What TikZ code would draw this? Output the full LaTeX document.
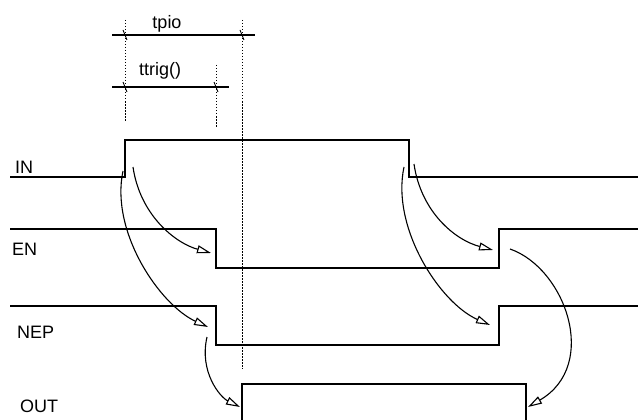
\documentclass[tikz,border=0pt]{standalone}
\usepackage{fontspec}
\setmainfont{Liberation Sans}
\usetikzlibrary{arrows.meta}
\def\TICK#1{\draw[line width=0.9pt] (#1)+(-2,-5) -- +(2,5);}
\tikzset{
  sig/.style={line width=1.5pt},
  guide/.style={line width=0.9pt,dash pattern=on 1.5pt off 1.5pt},
  cause/.style={line width=1.1pt,-{Triangle[open,length=14pt,width=8pt,line width=1.1pt]}},
  lbl/.style={anchor=base west,font=\fontsize{18}{20}\selectfont,inner sep=0pt}
}
\begin{document}
\begin{tikzpicture}[x=1pt,y=-1pt]
\useasboundingbox (0,0) rectangle (638,420);
% signals
\draw[sig] (10,177) -- (125,177) -- (125,140) -- (409,140) -- (409,177) -- (638,177);
\draw[sig] (10,229) -- (216,229) -- (216,268) -- (499,268) -- (499,229) -- (638,229);
\draw[sig] (10,306) -- (216,306) -- (216,345) -- (499,345) -- (499,306) -- (638,306);
\draw[sig] (242,421) -- (242,384) -- (526,384) -- (526,421);
\node[lbl] (in) at (15,173) {IN};
\node[lbl] (en) at (12,255) {EN};
\node[lbl] (nep) at (17,338) {NEP};
\node[lbl] (out) at (20,412) {OUT};
% timing guides
\draw[guide] (125,20) -- (125,122);
\draw[guide] (216,65) -- (216,127);
\draw[guide] (242,20) -- (242,369);
\coordinate (p1) at (125,35); \coordinate (p2) at (242,35);
\coordinate (q1) at (125,87); \coordinate (q2) at (216,87);
\draw[line width=1.1pt] (112,35) -- (255,35);
\draw[line width=1.1pt] (112,87) -- (229,87);
\TICK{p1} \TICK{p2} \TICK{q1} \TICK{q2}
\node[lbl,anchor=base] (tpio) at (167,29) {tpio};
\node[lbl,anchor=base] (ttrig) at (160,76) {ttrig()};
% causes
\coordinate (a1) at (133,167); \coordinate (b1) at (211,253);
\coordinate (a2) at (123,171); \coordinate (b2) at (208,327);
\coordinate (a3) at (414,164); \coordinate (b3) at (493,250);
\coordinate (a4) at (404,167); \coordinate (b4) at (490,325);
\coordinate (a5) at (207,337); \coordinate (b5) at (240,407);
\coordinate (a6) at (510,249); \coordinate (b6) at (528,407);
\draw[cause] (a1) .. controls (140,215) and (175,243) .. (b1);
\draw[cause] (a2) .. controls (110,232) and (160,305) .. (b2);
\draw[cause] (a3) .. controls (421,212) and (455,240) .. (b3);
\draw[cause] (a4) .. controls (391,228) and (440,303) .. (b4);
\draw[cause] (a5) .. controls (199,372) and (220,397) .. (b5);
\draw[cause] (a6) .. controls (565,268) and (600,365) .. (b6);
\end{tikzpicture}
\end{document}
